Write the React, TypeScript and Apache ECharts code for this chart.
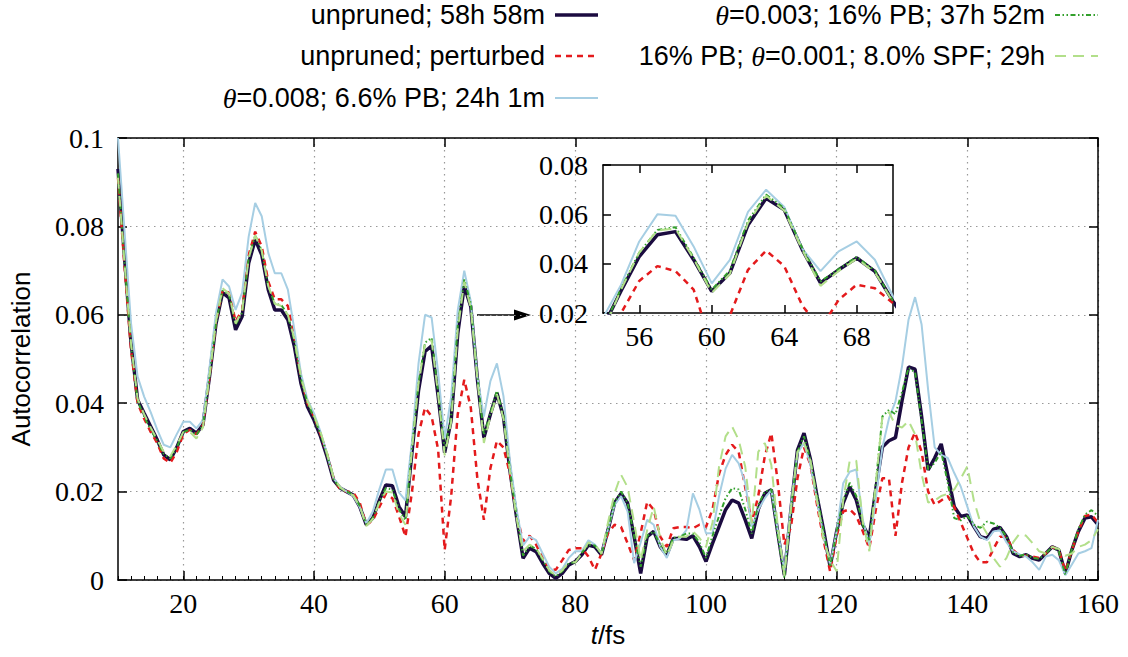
import React, { useEffect, useRef } from "react";
import * as echarts from "echarts";

// time axis: first sample at t = 10 fs, one sample per fs
const T_START = 10;

const xTicks = [20, 40, 60, 80, 100, 120, 140, 160];
const insetXTicks = [56, 60, 64, 68];

const labels = [
  "unpruned; 58h 58m",
  "unpruned; perturbed",
  "θ=0.008; 6.6% PB; 24h 1m",
  "θ=0.003; 16% PB; 37h 52m",
  "16% PB; θ=0.001; 8.0% SPF; 29h",
];

const unpruned = [
  0.093, 0.073, 0.0536, 0.0408, 0.0377, 0.0347, 0.0317, 0.0283, 0.0272, 0.03,
  0.0336, 0.0343, 0.0332, 0.0351, 0.046, 0.058, 0.065, 0.0638, 0.0566, 0.0596,
  0.0717, 0.077, 0.0736, 0.0657, 0.0611, 0.0611, 0.0589, 0.0528, 0.0445, 0.0392,
  0.0362, 0.0325, 0.0279, 0.0226, 0.0208, 0.02, 0.0192, 0.0166, 0.0125, 0.014,
  0.018, 0.0215, 0.0213, 0.0166, 0.0143, 0.029, 0.0429, 0.0517, 0.053, 0.0416,
  0.0288, 0.0362, 0.0557, 0.0665, 0.0618, 0.0456, 0.0322, 0.0375, 0.0423, 0.0369,
  0.0247, 0.0143, 0.0049, 0.0072, 0.0064, 0.0038, 0.0015, 0.0004, 0.0015, 0.0034,
  0.0042, 0.0057, 0.0079, 0.0075, 0.0057, 0.0113, 0.0174, 0.0196, 0.0174, 0.0098,
  0.0015, 0.0098, 0.011, 0.0075, 0.0057, 0.0094, 0.0094, 0.0092, 0.01, 0.0075,
  0.0042, 0.0083, 0.0121, 0.0159, 0.0181, 0.0174, 0.0136, 0.0094, 0.016, 0.0196,
  0.0204, 0.0106, 0.0011, 0.0159, 0.0294, 0.0332, 0.0272, 0.0189, 0.0113, 0.003,
  0.011, 0.0174, 0.0211, 0.0181, 0.0125, 0.0096, 0.0207, 0.0301, 0.0315, 0.0322,
  0.0405, 0.0482, 0.0477, 0.037, 0.0249, 0.0276, 0.0308, 0.0238, 0.0166, 0.0144,
  0.0147, 0.0121, 0.0098, 0.0094, 0.0115, 0.0119, 0.0098, 0.006, 0.0053, 0.0057,
  0.0049, 0.0045, 0.006, 0.0075, 0.0068, 0.0015, 0.0068, 0.011, 0.014, 0.0143,
  0.0125,
];

const perturbed = [
  0.091, 0.071, 0.052, 0.04, 0.0365, 0.0335, 0.031, 0.0275, 0.0265, 0.029,
  0.033, 0.034, 0.033, 0.035, 0.046, 0.0585, 0.0655, 0.065, 0.0585, 0.061,
  0.0735, 0.0788, 0.0755, 0.0675, 0.0635, 0.0635, 0.062, 0.055, 0.046, 0.04,
  0.037, 0.033, 0.0285, 0.023, 0.0205, 0.02, 0.0198, 0.0175, 0.0125, 0.0135,
  0.0165, 0.0195, 0.0185, 0.0145, 0.0098, 0.02, 0.033, 0.039, 0.037, 0.0295,
  0.0068, 0.019, 0.0375, 0.0453, 0.039, 0.023, 0.0136, 0.0253, 0.0315, 0.03,
  0.024, 0.015, 0.0087, 0.01, 0.008, 0.005, 0.0025, 0.0023, 0.0045, 0.0068,
  0.0072, 0.0072, 0.0053, 0.0023, 0.006, 0.0106, 0.0125, 0.012, 0.0083, 0.0045,
  0.0106, 0.0177, 0.0159, 0.0098, 0.0075, 0.0117, 0.012, 0.012, 0.0117, 0.0125,
  0.012, 0.016, 0.024, 0.0283, 0.0306, 0.029, 0.021, 0.013, 0.019, 0.028,
  0.0332, 0.022, 0.008, 0.012, 0.023, 0.03, 0.026, 0.017, 0.009, 0.0019,
  0.01, 0.0155, 0.016, 0.0145, 0.011, 0.0072, 0.016, 0.023, 0.023, 0.01,
  0.022, 0.03, 0.0334, 0.029, 0.02, 0.017, 0.018, 0.019, 0.0165, 0.013,
  0.0095, 0.006, 0.004, 0.004, 0.007, 0.0098, 0.0098, 0.0068, 0.0055, 0.0055,
  0.0053, 0.005, 0.006, 0.0075, 0.0068, 0.002, 0.0068, 0.011, 0.0145, 0.0148,
  0.013,
];

const theta008 = [
  0.1, 0.079, 0.058, 0.046, 0.0415, 0.038, 0.034, 0.0306, 0.03, 0.033,
  0.0358, 0.0358, 0.0343, 0.0362, 0.048, 0.0605, 0.068, 0.0664, 0.0611, 0.065,
  0.0777, 0.0853, 0.0823, 0.074, 0.0694, 0.0694, 0.0657, 0.0566, 0.0468, 0.0408,
  0.0377, 0.0335, 0.0285, 0.023, 0.021, 0.02, 0.019, 0.0165, 0.0128, 0.0155,
  0.0205, 0.025, 0.025, 0.0198, 0.018, 0.0315, 0.049, 0.06, 0.0594, 0.047,
  0.032, 0.0415, 0.061, 0.07, 0.063, 0.046, 0.037, 0.045, 0.049, 0.0416,
  0.0268, 0.016, 0.0078, 0.0098, 0.009, 0.006, 0.003, 0.0015, 0.0025, 0.005,
  0.0065, 0.0065, 0.009, 0.008, 0.006, 0.0115, 0.017, 0.019, 0.0155, 0.0038,
  0.0085, 0.0136, 0.0125, 0.0075, 0.005, 0.009, 0.0094, 0.0113, 0.0196, 0.0159,
  0.0106, 0.0106, 0.019, 0.0252, 0.0283, 0.0264, 0.022, 0.012, 0.0159, 0.0185,
  0.0204, 0.011, 0.002, 0.017, 0.0287, 0.031, 0.026, 0.018, 0.01, 0.0035,
  0.011, 0.0219, 0.0245, 0.025, 0.0136, 0.008, 0.0185, 0.03, 0.0365, 0.0404,
  0.0483, 0.0589, 0.064, 0.0578, 0.043, 0.03, 0.0283, 0.0276, 0.0242, 0.0211,
  0.0166, 0.0121, 0.0098, 0.009, 0.011, 0.0112, 0.0085, 0.0065, 0.0058, 0.0053,
  0.004, 0.0023, 0.0053, 0.0057, 0.0045, 0.0011, 0.0035, 0.006, 0.0065, 0.0072,
  0.0136,
];

const theta003 = [
  0.092, 0.072, 0.053, 0.0405, 0.037, 0.034, 0.0315, 0.0285, 0.0275, 0.03,
  0.0335, 0.034, 0.0328, 0.035, 0.046, 0.058, 0.0655, 0.0645, 0.0578, 0.0605,
  0.0728, 0.078, 0.0745, 0.0665, 0.0625, 0.0622, 0.06, 0.054, 0.0455, 0.04,
  0.0368, 0.033, 0.0283, 0.0228, 0.0207, 0.02, 0.0193, 0.0168, 0.0125, 0.014,
  0.0178, 0.0208, 0.0205, 0.016, 0.0135, 0.03, 0.0445, 0.0537, 0.0548, 0.0425,
  0.0295, 0.0372, 0.0575, 0.068, 0.0625, 0.0462, 0.0328, 0.0378, 0.0428, 0.0372,
  0.0248, 0.0145, 0.0055, 0.0078, 0.007, 0.0045, 0.002, 0.0008, 0.002, 0.0038,
  0.004, 0.0062, 0.008, 0.0078, 0.0058, 0.0115, 0.0175, 0.02, 0.0175, 0.01,
  0.003, 0.01, 0.011, 0.0078, 0.006, 0.0095, 0.0098, 0.0105, 0.0105, 0.0085,
  0.005, 0.01, 0.0145, 0.0185, 0.0208, 0.0205, 0.016, 0.0105, 0.017, 0.02,
  0.0205, 0.01, 0.0005, 0.016, 0.029, 0.0325, 0.027, 0.019, 0.011, 0.003,
  0.011, 0.018, 0.022, 0.019, 0.0125, 0.009, 0.022, 0.037, 0.0385, 0.0375,
  0.0425, 0.048, 0.047, 0.036, 0.025, 0.0265, 0.029, 0.022, 0.014, 0.0135,
  0.0145, 0.0125, 0.0118, 0.0132, 0.0128, 0.0118, 0.0098, 0.0062, 0.0055, 0.0058,
  0.005, 0.0048, 0.006, 0.0075, 0.0065, 0.0012, 0.007, 0.0115, 0.0148, 0.0158,
  0.0145,
];

const theta001spf = [
  0.091, 0.0715, 0.0535, 0.041, 0.0375, 0.0345, 0.0318, 0.029, 0.028, 0.0305,
  0.0335, 0.0335, 0.032, 0.0345, 0.046, 0.0585, 0.066, 0.0648, 0.058, 0.061,
  0.0728, 0.078, 0.0745, 0.0665, 0.0625, 0.062, 0.06, 0.0545, 0.046, 0.0405,
  0.0372, 0.0335, 0.0287, 0.0232, 0.021, 0.0198, 0.0192, 0.0168, 0.0122, 0.0138,
  0.0175, 0.02, 0.0198, 0.015, 0.0125, 0.0295, 0.0445, 0.0535, 0.0542, 0.042,
  0.0282, 0.0358, 0.0565, 0.0675, 0.0615, 0.0455, 0.031, 0.037, 0.042, 0.0365,
  0.0245, 0.014, 0.0065, 0.008, 0.0072, 0.0048, 0.0022, 0.001, 0.0022, 0.004,
  0.004, 0.006, 0.0085, 0.008, 0.006, 0.013, 0.0196, 0.0238, 0.021, 0.013,
  0.0045, 0.0113, 0.0166, 0.0095, 0.0055, 0.009, 0.0098, 0.0098, 0.011, 0.0095,
  0.0075, 0.013, 0.0257, 0.0325, 0.0347, 0.0317, 0.0257, 0.0128, 0.029, 0.031,
  0.026, 0.012, 0.001, 0.016, 0.029, 0.031, 0.027, 0.018, 0.009, 0.0045,
  0.002, 0.018, 0.027, 0.027, 0.013, 0.0065, 0.022, 0.037, 0.038, 0.035,
  0.0345, 0.036, 0.033, 0.024, 0.0175, 0.018, 0.019, 0.0195, 0.0205, 0.023,
  0.0257, 0.018, 0.013, 0.0105, 0.005, 0.003, 0.005, 0.0085, 0.0105, 0.01,
  0.0083, 0.0065, 0.006, 0.0075, 0.007, 0.0055, 0.006, 0.0075, 0.008, 0.009,
  0.0115,
];

const seriesValues = [unpruned, perturbed, theta008, theta003, theta001spf];

const SERIF = "Liberation Serif";
const SANS = "Liberation Sans";

const styles = [
  { color: "#1b0b40", width: 3.5, type: "solid" as any },
  { color: "#e41a1c", width: 2.5, type: [6, 5] as any },
  { color: "#a6cee3", width: 2, type: "solid" as any },
  { color: "#33a02c", width: 2, type: [5, 2.5, 1.5, 2.5, 1.5, 2.5] as any },
  { color: "#b2df8a", width: 2, type: [11, 7] as any },
];

function toPairs(vals: number[]) {
  return vals.map((v, i) => [T_START + i, v]);
}

function richLabel(s: string) {
  return s.replace(/θ/g, "{i|θ}");
}

function yFmt(v: number) {
  if (Math.abs(v) < 1e-9) return "0";
  return String(+v.toFixed(2));
}

export default function App() {
  const ref = useRef<HTMLDivElement>(null);

  useEffect(() => {
    if (!ref.current) return;
    const chart = echarts.init(ref.current, null, { renderer: "svg" });

    const axisLineStyle = { color: "#000", width: 1.5 };
    const tickFont = { fontFamily: SERIF, fontSize: 28, color: "#000" };
    const LEG_FONT = 27;

    const mkSeries = (xi: number, yi: number) =>
      seriesValues.map((vals, k) => ({
        name: labels[k],
        type: "line",
        xAxisIndex: xi,
        yAxisIndex: yi,
        data: toPairs(vals),
        symbol: "none",
        clip: true,
        lineStyle: styles[k],
        itemStyle: { color: styles[k].color },
        z: 2 + k,
      }));

    // legend (gnuplot-style: text right-aligned, sample to the right)
    const legendCols = [
      { textRight: 545, x1: 555, x2: 598 },
      { textRight: 1045, x1: 1055, x2: 1098 },
    ];
    const rowY = [15, 56, 98];
    const graphics: any[] = [];
    labels.forEach((lab, k) => {
      const col = k < 3 ? 0 : 1;
      const row = k < 3 ? k : k - 3;
      const c = legendCols[col];
      graphics.push({
        type: "text",
        x: c.textRight,
        y: rowY[row],
        style: {
          text: richLabel(lab),
          fill: "#000",
          fontFamily: SANS,
          fontSize: LEG_FONT,
          align: "right",
          verticalAlign: "middle",
          rich: {
            i: { fontFamily: SERIF, fontStyle: "italic", fontSize: LEG_FONT + 1, fill: "#000" },
          },
        },
      });
      graphics.push({
        type: "line",
        shape: { x1: c.x1, y1: rowY[row], x2: c.x2, y2: rowY[row] },
        style: {
          stroke: styles[k].color,
          lineWidth: styles[k].width,
          lineDash: Array.isArray(styles[k].type) ? styles[k].type : null,
        },
      });
    });

    // arrow pointing from the main peaks to the inset
    graphics.push({
      type: "line",
      shape: { x1: 477, y1: 315, x2: 518, y2: 315 },
      style: { stroke: "#000", lineWidth: 1.3 },
    });
    graphics.push({
      type: "polygon",
      shape: { points: [[531, 315], [514, 309.5], [514, 320.5]] },
      style: { fill: "#000" },
    });

    const tickStyle = { color: "#000", width: 1.5 };
    const gridLine = { show: true, lineStyle: { color: "#999", width: 1.2, type: [1.5, 4.5] } };

    const option: any = {
      animation: false,
      backgroundColor: "#fff",
      grid: [
        { left: 117, top: 138, width: 981, height: 442 },
        { left: 603, top: 165, width: 290, height: 148 },
      ],
      xAxis: [
        {
          gridIndex: 0,
          type: "value",
          position: "bottom",
          min: 10,
          max: 160,
          name: "{i|t}/fs",
          nameLocation: "middle",
          nameGap: 40,
          nameTextStyle: {
            fontFamily: SANS,
            fontSize: 26,
            color: "#000",
            rich: { i: { fontFamily: SANS, fontStyle: "italic", fontSize: 26, color: "#000" } },
          },
          axisLine: { show: true, onZero: false, lineStyle: axisLineStyle },
          axisTick: { show: true, inside: true, length: 9, customValues: xTicks, lineStyle: tickStyle },
          axisLabel: { show: true, customValues: xTicks, margin: 9, ...tickFont },
          splitLine: gridLine,
        },
        {
          gridIndex: 0,
          type: "value",
          position: "top",
          min: 10,
          max: 160,
          axisLine: { show: true, onZero: false, lineStyle: axisLineStyle },
          axisTick: { show: true, inside: true, length: 9, customValues: xTicks, lineStyle: tickStyle },
          axisLabel: { show: false },
          splitLine: { show: false },
        },
        {
          gridIndex: 0,
          type: "value",
          position: "bottom",
          min: 10,
          max: 160,
          interval: 2,
          axisLine: { show: false, onZero: false },
          axisTick: { show: true, inside: true, length: 4, lineStyle: { color: "#000", width: 1 } },
          axisLabel: { show: false },
          splitLine: { show: false },
        },
        {
          gridIndex: 1,
          type: "value",
          position: "bottom",
          min: 54,
          max: 70,
          axisLine: { show: true, onZero: false, lineStyle: axisLineStyle },
          axisTick: { show: true, inside: true, length: 8, customValues: insetXTicks, lineStyle: tickStyle },
          axisLabel: { show: true, customValues: insetXTicks, margin: 9, ...tickFont },
          splitLine: { show: false },
        },
        {
          gridIndex: 1,
          type: "value",
          position: "top",
          min: 54,
          max: 70,
          axisLine: { show: true, onZero: false, lineStyle: axisLineStyle },
          axisTick: { show: true, inside: true, length: 8, customValues: insetXTicks, lineStyle: tickStyle },
          axisLabel: { show: false },
          splitLine: { show: false },
        },
      ],
      yAxis: [
        {
          gridIndex: 0,
          type: "value",
          position: "left",
          min: 0,
          max: 0.1,
          interval: 0.02,
          name: "Autocorrelation",
          nameLocation: "middle",
          nameGap: 84,
          nameRotate: 90,
          nameTextStyle: { fontFamily: SANS, fontSize: 26, color: "#000" },
          axisLine: { show: true, onZero: false, lineStyle: axisLineStyle },
          axisTick: { show: true, inside: true, length: 9, lineStyle: tickStyle },
          axisLabel: { show: true, margin: 14, formatter: yFmt, ...tickFont },
          splitLine: gridLine,
        },
        {
          gridIndex: 0,
          type: "value",
          position: "right",
          min: 0,
          max: 0.1,
          interval: 0.02,
          axisLine: { show: true, onZero: false, lineStyle: axisLineStyle },
          axisTick: { show: true, inside: true, length: 9, lineStyle: tickStyle },
          axisLabel: { show: false },
          splitLine: { show: false },
        },
        {
          gridIndex: 1,
          type: "value",
          position: "left",
          min: 0.02,
          max: 0.08,
          interval: 0.02,
          axisLine: { show: true, onZero: false, lineStyle: axisLineStyle },
          axisTick: { show: true, inside: true, length: 8, lineStyle: tickStyle },
          axisLabel: { show: true, margin: 15, formatter: yFmt, ...tickFont },
          splitLine: { show: false },
        },
        {
          gridIndex: 1,
          type: "value",
          position: "right",
          min: 0.02,
          max: 0.08,
          interval: 0.02,
          axisLine: { show: true, onZero: false, lineStyle: axisLineStyle },
          axisTick: { show: true, inside: true, length: 8, lineStyle: tickStyle },
          axisLabel: { show: false },
          splitLine: { show: false },
        },
      ],
      series: [...mkSeries(0, 0), ...mkSeries(3, 2)],
      graphic: graphics,
    };

    chart.setOption(option);
    return () => chart.dispose();
  }, []);

  return (
    <div
      ref={ref}
      style={{ position: "absolute", left: 0, top: 0, width: 1128, height: 657 }}
    />
  );
}
